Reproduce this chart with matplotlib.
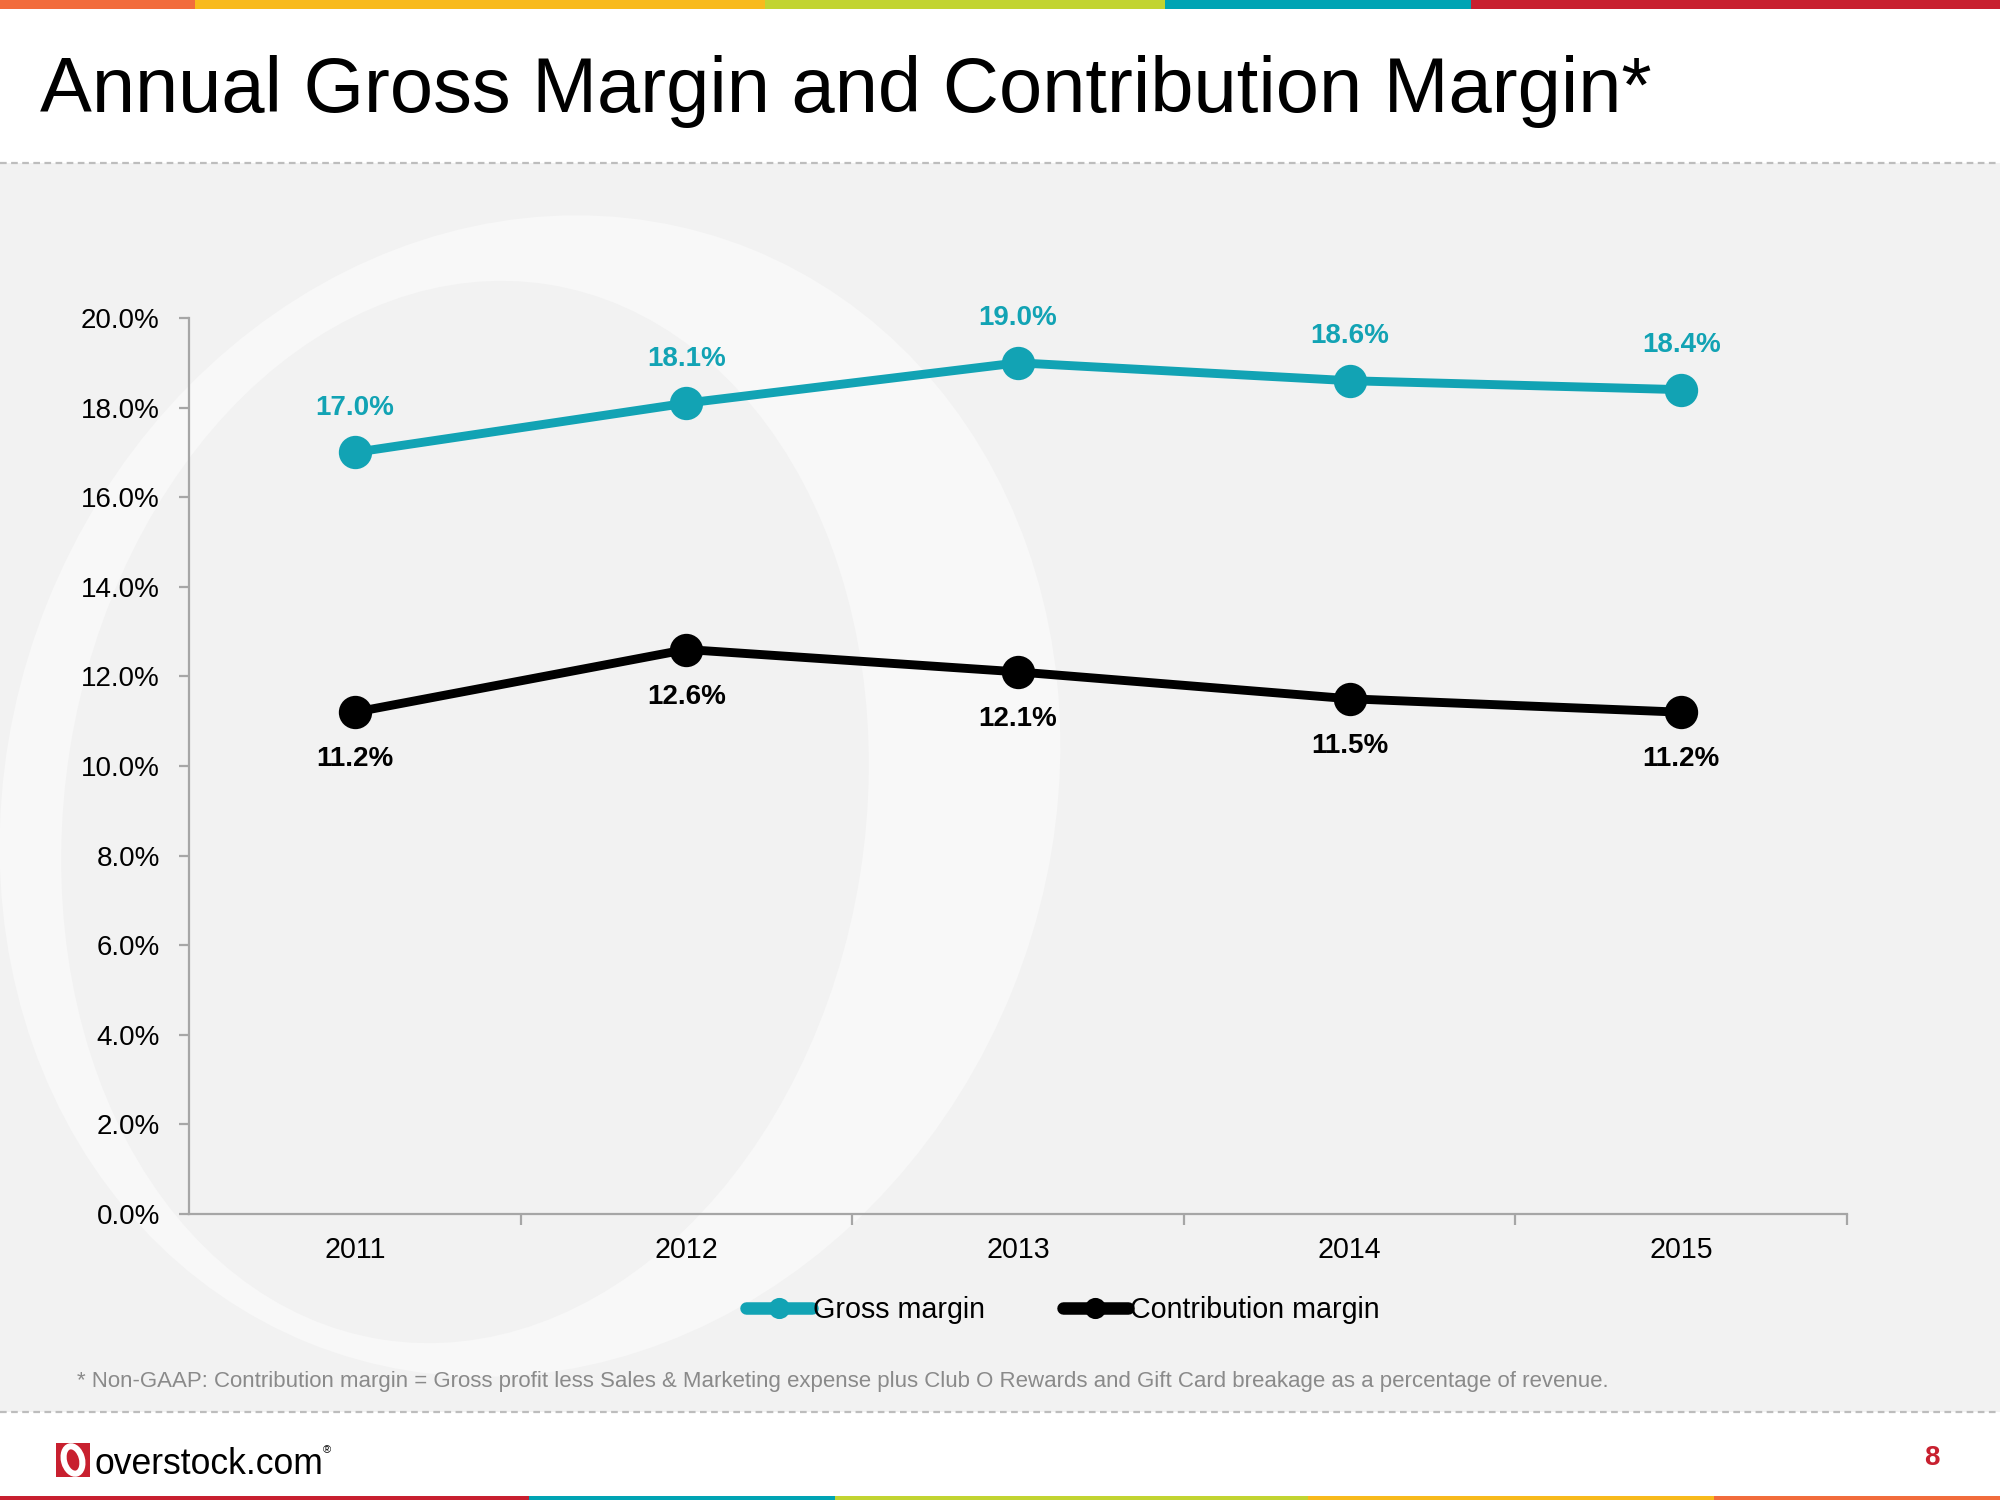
import matplotlib.pyplot as plt
from matplotlib.patches import Rectangle, Ellipse

years = ['2011', '2012', '2013', '2014', '2015']
gross_margin = [17.0, 18.1, 19.0, 18.6, 18.4]
contribution_margin = [11.2, 12.6, 12.1, 11.5, 11.2]
y_ticks = [0, 2, 4, 6, 8, 10, 12, 14, 16, 18, 20]

teal = '#12A3B4'
plt.rcParams['font.family'] = ['Liberation Sans', 'DejaVu Sans']

fig = plt.figure(figsize=(10, 7.5), dpi=200)
fig.patch.set_facecolor('white')

# background layer, pixel coordinates
bg = fig.add_axes([0, 0, 1, 1], zorder=0)
bg.set_xlim(0, 2000)
bg.set_ylim(1500, 0)
bg.axis('off')

bg.add_patch(Rectangle((0, 163), 2000, 1249, color='#F2F2F2', lw=0))
# faint "O" watermark
bg.add_patch(Ellipse((530, 796), 1040, 1180, angle=22, color='#F8F8F8', lw=0))
bg.add_patch(Ellipse((465, 812), 800, 1068, angle=9, color='#F2F2F2', lw=0))
bg.add_patch(Rectangle((0, 0), 2000, 163, color='white', lw=0))
bg.add_patch(Rectangle((0, 1412), 2000, 90, color='white', lw=0))
for yy in (163, 1412):
    bg.plot([0, 2000], [yy, yy], color='#BDBDBD', lw=0.8, ls=(0, (3, 2)))

top_bar = [(0, 195, '#F26C3C'), (195, 765, '#F8BA1C'), (765, 1165, '#C2D431'),
           (1165, 1471, '#00A4B4'), (1471, 2000, '#C8202F')]
for x0, x1, c in top_bar:
    bg.add_patch(Rectangle((x0, 0), x1 - x0, 9, color=c, lw=0))
bottom_bar = [(0, 529, '#C8202F'), (529, 835, '#00A4B4'), (835, 1308, '#C2D431'),
              (1308, 1714, '#F8BA1C'), (1714, 2000, '#F26C3C')]
for x0, x1, c in bottom_bar:
    bg.add_patch(Rectangle((x0, 1496), x1 - x0, 4, color=c, lw=0))

bg.text(40, 112, 'Annual Gross Margin and Contribution Margin*', fontsize=28,
        color='black', ha='left', va='baseline')
bg.text(77, 1381, '* Non-GAAP: Contribution margin = Gross profit less Sales & Marketing '
        'expense plus Club O Rewards and Gift Card breakage as a percentage of revenue.',
        fontsize=8.0, color='#8A8A8A', ha='left', va='center')

# logo
bg.add_patch(Rectangle((56, 1443), 34, 34, color='#C8202F', lw=0))
bg.add_patch(Ellipse((73, 1460), 18, 28, angle=-15, fill=False, ec='white', lw=2.2))
bg.text(95, 1474, 'overstock.com', fontsize=12.8, color='black',
        ha='left', va='baseline')
bg.text(323, 1450, '®', fontsize=4, color='black', ha='left', va='center')
bg.text(1932, 1458, '8', fontsize=10, color='#C8202F', fontweight='bold',
        ha='center', va='center')

# chart
ax = fig.add_axes([0.0945, 0.1907, 0.829, 0.5973], zorder=2)
ax.set_facecolor('none')
x = list(range(1, len(years) + 1))

ax.plot(x, gross_margin, color=teal, lw=3.2, marker='o', ms=11,
        label='Gross margin', solid_capstyle='round')
ax.plot(x, contribution_margin, color='black', lw=3.2, marker='o', ms=11,
        label='Contribution margin', solid_capstyle='round')

for xi, v in zip(x, gross_margin):
    ax.annotate(f'{v:.1f}%', (xi, v), xytext=(0, 16), textcoords='offset points',
                ha='center', va='center', fontsize=10, fontweight='bold', color=teal)
for xi, v in zip(x, contribution_margin):
    ax.annotate(f'{v:.1f}%', (xi, v), xytext=(0, -17), textcoords='offset points',
                ha='center', va='center', fontsize=10, fontweight='bold', color='black')

ax.set_xlim(0.5, 5.5)
ax.set_ylim(0, 20)
ax.set_yticks(y_ticks)
ax.set_yticklabels([f'{t:.1f}%' for t in y_ticks])
ax.set_xticks(x)
ax.set_xticklabels(years)
ax.set_xticks([1.5, 2.5, 3.5, 4.5, 5.5], minor=True)
ax.tick_params(axis='x', which='major', length=0, pad=8, labelsize=10.3)
ax.tick_params(axis='x', which='minor', length=4, color='#A6A6A6', width=0.8)
ax.tick_params(axis='y', length=3.5, color='#A6A6A6', width=0.8, pad=7, labelsize=10)
for s in ('top', 'right'):
    ax.spines[s].set_visible(False)
for s in ('left', 'bottom'):
    ax.spines[s].set_color('#A6A6A6')
    ax.spines[s].set_linewidth(0.8)

leg = ax.legend(loc='upper center', bbox_to_anchor=(0.527, -0.063), ncol=2, frameon=False,
                fontsize=10.3, handlelength=2.3, handletextpad=0.05, columnspacing=2.7,
                markerscale=0.6)
for h in leg.legend_handles:
    h.set_linewidth(4.5)

fig.savefig('out.png', dpi=200)
